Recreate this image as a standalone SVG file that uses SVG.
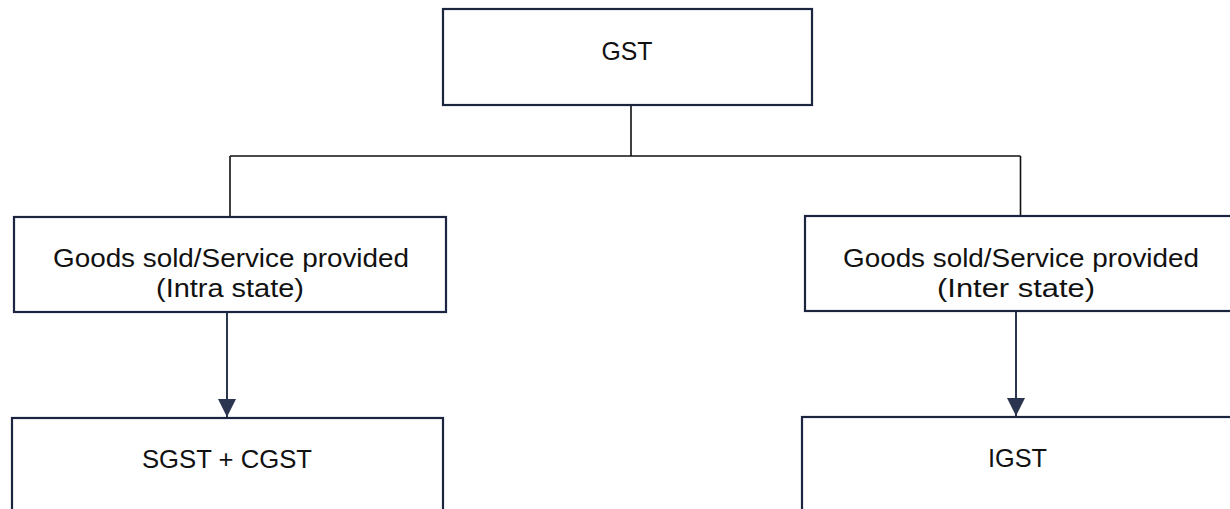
<svg xmlns="http://www.w3.org/2000/svg" width="1230" height="509" viewBox="0 0 1230 509">
<style>
.box{fill:#fff;stroke:#1b2540;stroke-width:2.2}
.lbl{font-family:"Liberation Sans",Arial,sans-serif;font-size:26px;fill:#111;text-anchor:middle}
.conn{fill:none;stroke:#111;stroke-width:1.6}
.arr{fill:none;stroke:#2b3550;stroke-width:2}
</style>
<defs>
<marker id="ah" markerWidth="18" markerHeight="18" viewBox="0 0 18 18" refX="18" refY="9" orient="auto" markerUnits="userSpaceOnUse">
<path d="M0,0 L18,9 L0,18 Z" fill="#2b3550"/>
</marker>
</defs>
<rect width="1230" height="509" fill="#fff"/>
<g id="connectors">
<path class="conn" d="M631,105 V156 M230,156 H1020.5 M230,156 V217 M1020.5,156 V216"/>
<path class="arr" d="M227,312 V417" marker-end="url(#ah)"/>
<path class="arr" d="M1016,311 V416" marker-end="url(#ah)"/>
</g>
<g id="gst">
<rect class="box" x="443" y="9" width="369" height="96"/>
<text class="lbl" x="627" y="60" textLength="51" lengthAdjust="spacingAndGlyphs">GST</text>
</g>
<g id="intra">
<rect class="box" x="14" y="217" width="432" height="95"/>
<text class="lbl" x="231" y="267" textLength="356" lengthAdjust="spacingAndGlyphs">Goods sold/Service provided</text>
<text class="lbl" x="230" y="297" textLength="148" lengthAdjust="spacingAndGlyphs">(Intra state)</text>
</g>
<g id="inter">
<rect class="box" x="805" y="216" width="440" height="95"/>
<text class="lbl" x="1021" y="267" textLength="356" lengthAdjust="spacingAndGlyphs">Goods sold/Service provided</text>
<text class="lbl" x="1016" y="297" textLength="158" lengthAdjust="spacingAndGlyphs">(Inter state)</text>
</g>
<g id="sgst-cgst">
<rect class="box" x="12" y="418" width="431" height="110"/>
<text class="lbl" x="227" y="468" textLength="170" lengthAdjust="spacingAndGlyphs">SGST + CGST</text>
</g>
<g id="igst">
<rect class="box" x="802" y="417" width="440" height="110"/>
<text class="lbl" x="1017.5" y="467" textLength="59" lengthAdjust="spacingAndGlyphs">IGST</text>
</g>
</svg>
